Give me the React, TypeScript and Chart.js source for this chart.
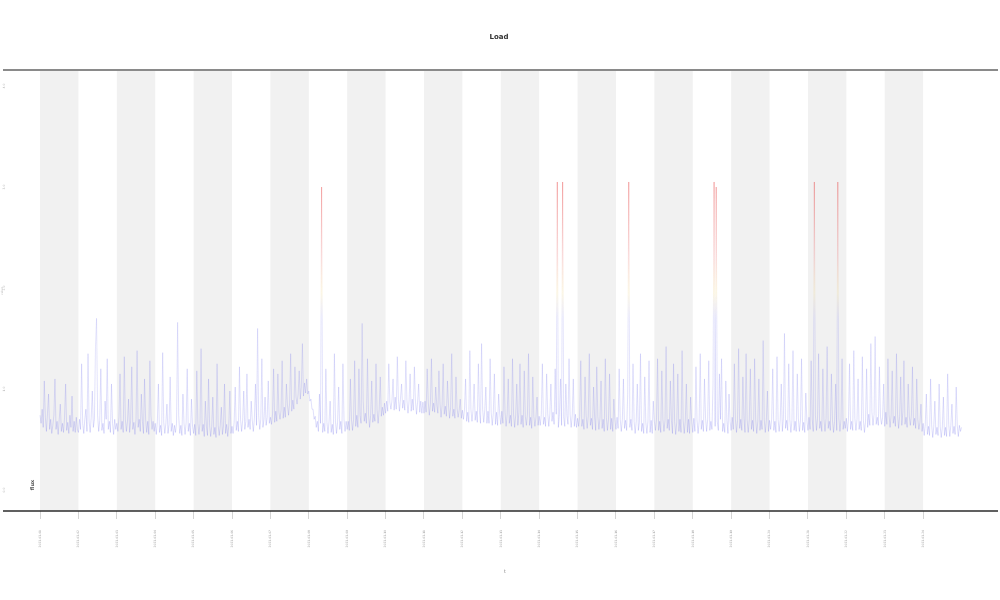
import React, { useEffect, useRef } from "react";
import { Chart, registerables } from "chart.js";

Chart.register(...registerables);

const chartTitle = "Load";
const seriesLabel = "flux";
const xAxisTitle = "t";
const yAxisTitle = "value";

const dayLabels = [
  "2023-03-01", "2023-03-02", "2023-03-03", "2023-03-04", "2023-03-05", "2023-03-06",
  "2023-03-07", "2023-03-08", "2023-03-09", "2023-03-10", "2023-03-11", "2023-03-12",
  "2023-03-13", "2023-03-14", "2023-03-15", "2023-03-16", "2023-03-17", "2023-03-18",
  "2023-03-19", "2023-03-20", "2023-03-21", "2023-03-22", "2023-03-23", "2023-03-24",
];

const yTickValues = [0, 1, 2, 3, 4];
const yTickLabels = ["0.0", "1.0", "2.0", "3.0", "4.0"];

// readings of each day, one row per day
const fluxByDay = [
  [0.74, 0.66, 0.80, 0.62, 1.08, 0.72, 0.58, 0.76, 0.95, 0.60, 0.70, 0.56, 0.64, 0.74, 1.10, 0.60, 0.68, 0.55, 0.70, 0.85, 0.58, 0.66, 0.57, 0.72, 1.05, 0.59, 0.67, 0.56, 0.74, 0.62, 0.93, 0.58, 0.68, 0.57, 0.72, 0.60],
  [0.57, 0.70, 0.60, 1.25, 0.66, 0.56, 0.70, 0.80, 0.58, 1.35, 0.68, 0.57, 0.72, 0.98, 0.62, 0.70, 1.42, 1.70, 0.74, 0.58, 0.69, 1.20, 0.59, 0.66, 0.56, 0.88, 0.70, 1.30, 0.60, 0.68, 0.57, 1.05, 0.66, 0.55, 0.70, 0.60],
  [0.66, 0.58, 0.72, 1.15, 0.60, 0.68, 0.57, 1.32, 0.70, 0.58, 0.68, 0.90, 0.57, 0.69, 1.22, 0.60, 0.67, 0.55, 0.70, 1.38, 0.62, 0.70, 0.58, 0.95, 0.68, 0.56, 1.10, 0.70, 0.57, 0.68, 0.55, 1.28, 0.74, 0.60, 0.68, 0.58],
  [0.66, 0.55, 0.68, 1.05, 0.57, 0.64, 0.54, 1.36, 0.67, 0.56, 0.66, 0.85, 0.56, 0.65, 1.12, 0.58, 0.66, 0.54, 0.64, 0.57, 0.66, 1.66, 0.74, 0.56, 0.64, 0.54, 0.95, 0.66, 0.55, 0.67, 1.20, 0.58, 0.66, 0.54, 0.90, 0.63],
  [0.56, 0.65, 0.54, 1.18, 0.66, 0.55, 0.66, 1.40, 0.58, 0.65, 0.53, 0.88, 0.63, 0.54, 1.10, 0.64, 0.53, 0.63, 0.92, 0.55, 0.62, 0.52, 1.25, 0.64, 0.54, 0.64, 0.82, 0.55, 0.63, 1.05, 0.56, 0.65, 0.53, 0.64, 0.98, 0.56],
  [0.63, 0.56, 0.67, 1.02, 0.59, 0.68, 0.58, 1.22, 0.70, 0.58, 0.69, 0.98, 0.60, 0.68, 1.15, 0.62, 0.70, 0.60, 0.88, 0.69, 0.58, 0.71, 1.05, 0.64, 1.60, 0.74, 0.60, 0.70, 1.30, 0.62, 0.70, 0.92, 0.64, 0.72, 1.08, 0.66],
  [0.72, 0.65, 0.75, 1.20, 0.67, 0.78, 0.68, 1.15, 0.77, 0.70, 0.79, 1.28, 0.71, 0.82, 0.72, 1.05, 0.84, 0.74, 0.86, 1.35, 0.78, 0.89, 0.80, 1.22, 0.92, 0.85, 0.95, 1.18, 0.90, 1.02, 1.45, 0.93, 1.06, 0.96, 1.10, 0.95],
  [0.98, 0.88, 0.90, 0.80, 0.80, 0.70, 0.73, 0.62, 0.68, 0.58, 0.95, 0.66, 3.00, 0.57, 0.66, 0.58, 1.20, 0.67, 0.56, 0.68, 0.88, 0.57, 0.65, 0.55, 1.35, 0.68, 0.56, 0.67, 1.02, 0.60, 0.68, 0.56, 1.25, 0.70, 0.58, 0.68],
  [0.60, 0.68, 0.59, 1.10, 0.70, 0.59, 0.70, 1.28, 0.63, 0.74, 0.62, 1.20, 0.74, 0.66, 1.65, 0.88, 0.68, 0.76, 0.66, 1.30, 0.75, 0.62, 0.74, 1.08, 0.67, 0.75, 0.68, 1.25, 0.79, 0.66, 0.80, 1.12, 0.73, 0.82, 0.74, 0.86],
  [0.76, 0.88, 0.78, 1.25, 0.87, 0.80, 0.89, 1.10, 0.79, 0.92, 0.80, 1.32, 0.90, 0.78, 0.91, 1.05, 0.81, 0.89, 0.79, 1.28, 0.89, 0.76, 0.88, 1.15, 0.78, 0.90, 0.79, 1.22, 0.88, 0.75, 0.87, 1.05, 0.77, 0.88, 0.76, 0.87],
  [0.76, 0.88, 0.77, 1.20, 0.87, 0.74, 0.85, 1.30, 0.78, 0.86, 0.77, 1.02, 0.84, 0.76, 1.18, 0.86, 0.72, 0.84, 1.25, 0.75, 0.83, 0.73, 1.08, 0.84, 0.71, 0.82, 1.35, 0.73, 0.80, 0.71, 1.12, 0.81, 0.72, 0.79, 0.90, 0.71],
  [0.79, 0.70, 0.80, 1.10, 0.68, 0.77, 0.67, 1.38, 0.80, 0.68, 0.79, 1.05, 0.69, 0.78, 0.67, 1.25, 0.78, 0.66, 1.45, 0.80, 0.67, 0.79, 1.02, 0.66, 0.78, 0.66, 1.30, 0.77, 0.64, 0.76, 1.15, 0.65, 0.77, 0.64, 0.95, 0.75],
  [0.65, 0.78, 0.66, 1.22, 0.77, 0.63, 0.75, 1.10, 0.66, 0.74, 0.63, 1.30, 0.75, 0.62, 0.74, 1.05, 0.64, 0.77, 1.25, 0.65, 0.74, 0.62, 1.18, 0.73, 0.64, 0.75, 1.35, 0.64, 0.72, 0.61, 1.12, 0.73, 0.63, 0.72, 0.92, 0.64],
  [0.73, 0.64, 0.75, 1.25, 0.65, 0.72, 0.63, 1.15, 0.76, 0.63, 0.75, 1.05, 0.68, 0.77, 0.65, 1.20, 0.75, 3.05, 0.62, 0.75, 1.10, 0.64, 3.05, 0.72, 0.63, 1.05, 0.74, 0.65, 1.30, 0.75, 0.62, 0.74, 1.10, 0.63, 0.75, 0.62],
  [0.71, 0.63, 0.73, 1.28, 0.63, 0.70, 0.60, 1.12, 0.74, 0.61, 0.73, 1.35, 0.64, 0.71, 0.60, 1.02, 0.72, 0.59, 1.22, 0.73, 0.60, 0.71, 1.08, 0.61, 0.70, 0.58, 1.30, 0.72, 0.59, 0.70, 1.15, 0.60, 0.71, 0.58, 0.90, 0.70],
  [0.60, 0.72, 0.61, 1.20, 0.70, 0.58, 0.70, 1.10, 0.61, 0.69, 0.59, 0.95, 3.05, 0.62, 0.70, 0.59, 1.25, 0.68, 0.56, 0.68, 1.05, 0.59, 0.67, 1.35, 0.58, 0.66, 0.56, 1.12, 0.67, 0.56, 0.68, 1.28, 0.57, 0.69, 0.56, 0.88],
  [0.68, 0.59, 0.70, 1.30, 0.59, 0.68, 0.57, 1.18, 0.70, 0.58, 0.69, 1.42, 0.61, 0.70, 0.59, 1.08, 0.69, 0.56, 1.25, 0.68, 0.55, 0.67, 1.15, 0.58, 0.70, 0.57, 1.38, 0.69, 0.56, 0.68, 1.05, 0.57, 0.70, 0.56, 0.92, 0.68],
  [0.57, 0.71, 0.58, 1.22, 0.69, 0.56, 0.68, 1.35, 0.60, 0.69, 0.58, 1.10, 0.71, 0.58, 0.70, 1.28, 0.59, 0.68, 0.60, 1.05, 3.05, 0.63, 3.00, 0.68, 0.59, 1.15, 0.70, 1.30, 0.58, 0.66, 0.57, 1.08, 0.69, 0.56, 0.95, 0.68],
  [0.59, 0.72, 0.60, 1.25, 0.70, 0.57, 0.69, 1.40, 0.61, 0.70, 0.59, 1.12, 0.71, 0.57, 1.35, 0.69, 0.57, 0.70, 1.20, 0.60, 0.69, 0.58, 1.30, 0.70, 0.56, 0.68, 1.10, 0.59, 0.69, 0.60, 1.48, 0.70, 0.57, 0.69, 0.98, 0.58],
  [0.69, 0.60, 0.70, 1.20, 0.59, 0.68, 0.57, 1.32, 0.70, 0.58, 0.69, 1.05, 0.58, 0.71, 1.55, 0.61, 0.69, 0.59, 1.25, 0.70, 0.57, 0.69, 1.38, 0.59, 0.68, 0.58, 1.15, 0.71, 0.58, 0.69, 1.30, 0.59, 0.67, 0.57, 0.96, 0.69],
  [0.59, 0.72, 0.60, 1.28, 0.70, 0.58, 3.05, 0.74, 0.59, 0.71, 1.35, 0.61, 0.68, 0.58, 1.20, 0.70, 0.58, 0.71, 1.42, 0.61, 0.68, 0.59, 1.15, 0.69, 0.57, 0.68, 1.05, 0.59, 3.05, 0.71, 0.58, 0.70, 1.30, 0.60, 0.68, 0.61],
  [0.71, 0.58, 0.70, 1.25, 0.60, 0.68, 0.59, 1.38, 0.71, 0.59, 0.70, 1.10, 0.60, 0.68, 0.59, 1.32, 0.69, 0.57, 0.68, 1.20, 0.62, 0.75, 0.64, 1.45, 0.77, 0.64, 0.75, 1.52, 0.65, 0.72, 0.64, 1.22, 0.73, 0.65, 0.72, 1.05],
  [0.63, 0.77, 0.65, 1.30, 0.75, 0.62, 0.74, 1.18, 0.66, 0.73, 0.63, 1.35, 0.75, 0.61, 0.73, 1.12, 0.64, 0.77, 1.28, 0.65, 0.72, 0.62, 1.05, 0.73, 0.64, 0.74, 1.22, 0.64, 0.71, 0.61, 1.10, 0.70, 0.60, 0.67, 0.85, 0.58],
  [0.66, 0.54, 0.65, 0.95, 0.55, 0.63, 0.54, 1.10, 0.64, 0.52, 0.63, 0.88, 0.55, 0.62, 0.54, 1.05, 0.63, 0.52, 0.62, 0.92, 0.54, 0.62, 0.53, 1.15, 0.65, 0.53, 0.64, 0.85, 0.56, 0.63, 0.55, 1.02, 0.64, 0.53, 0.64, 0.58],
];
const finalReading = 0.62;

export default function App() {
  const canvasRef = useRef<HTMLCanvasElement | null>(null);

  useEffect(() => {
    const canvas = canvasRef.current;
    if (!canvas) return;
    const points: { x: number; y: number }[] = [];
    fluxByDay.forEach((row, d) => {
      row.forEach((v, j) => points.push({ x: d + j / row.length, y: v }));
    });
    points.push({ x: fluxByDay.length, y: finalReading });

    let gradCache: CanvasGradient | null = null;
    let gradKey = "";
    const lineColor = (ctx: any) => {
      const chart = ctx.chart;
      const area = chart.chartArea;
      if (!area) return "rgba(90,90,235,0.4)";
      const ys = chart.scales.y;
      const p0 = ys.getPixelForValue(0);
      const p1 = ys.getPixelForValue(3.1);
      const key = p0 + ":" + p1;
      if (gradCache && key === gradKey) return gradCache;
      const g = chart.ctx.createLinearGradient(0, p0, 0, p1);
      g.addColorStop(0, "rgba(90,90,235,0.42)");
      g.addColorStop(1.7 / 3.1, "rgba(120,120,235,0.33)");
      g.addColorStop(1.95 / 3.1, "rgba(235,205,110,0.33)");
      g.addColorStop(2.3 / 3.1, "rgba(235,120,120,0.38)");
      g.addColorStop(1, "rgba(230,60,60,0.6)");
      gradCache = g;
      gradKey = key;
      return g;
    };

    const decorPlugin = {
      id: "decor",
      beforeDatasetsDraw(chart: any) {
        const { ctx, chartArea, scales } = chart;
        const xs = scales.x;
        ctx.save();
        ctx.fillStyle = "#f1f1f1";
        for (let i = 0; i + 1 < dayLabels.length; i += 2) {
          const a = xs.getPixelForValue(i);
          const b = xs.getPixelForValue(i + 1);
          ctx.fillRect(a, chartArea.top, b - a, chartArea.bottom - chartArea.top);
        }
        ctx.restore();
      },
      afterDraw(chart: any) {
        const { ctx, chartArea, scales } = chart;
        const ys = scales.y;
        const left = ys.left + 3;
        ctx.save();
        ctx.strokeStyle = "#8a8a8a";
        ctx.lineWidth = 2;
        ctx.beginPath();
        ctx.moveTo(left, chartArea.top - 1);
        ctx.lineTo(chartArea.right, chartArea.top - 1);
        ctx.stroke();
        ctx.strokeStyle = "#2b2b2b";
        ctx.lineWidth = 1.5;
        ctx.beginPath();
        ctx.moveTo(left, chartArea.bottom);
        ctx.lineTo(chartArea.right, chartArea.bottom);
        ctx.stroke();

        ctx.fillStyle = "#b0b0b0";
        ctx.font = "3px 'DejaVu Sans'";
        ctx.textAlign = "center";
        ctx.textBaseline = "middle";
        yTickValues.forEach((v, i) => {
          const py = ys.getPixelForValue(v);
          ctx.save();
          ctx.translate(ys.left + 4, py);
          ctx.rotate(-Math.PI / 2);
          ctx.fillText(yTickLabels[i], 0, 0);
          ctx.restore();
        });

        ctx.fillStyle = "#555";
        ctx.font = "bold 5px 'DejaVu Sans'";
        ctx.save();
        ctx.translate(chartArea.left + 21, chartArea.bottom - 26);
        ctx.rotate(-Math.PI / 2);
        ctx.fillText(seriesLabel, 0, 0);
        ctx.restore();
        ctx.restore();
      },
    };

    const chart = new Chart(canvas, {
      type: "line",
      data: {
        datasets: [
          {
            label: seriesLabel,
            data: points,
            borderColor: lineColor,
            borderWidth: 0.55,
            pointRadius: 0,
            tension: 0,
            fill: false,
          } as any,
        ],
      },
      options: {
        animation: false,
        responsive: false,
        maintainAspectRatio: false,
        layout: { padding: { left: 0, right: 2, top: 0, bottom: 0 } },
        plugins: {
          legend: { display: false },
          tooltip: { enabled: false },
          title: {
            display: true,
            text: chartTitle,
            color: "#333",
            font: { size: 7, family: "'DejaVu Sans'", weight: "bold" },
            padding: { top: 33, bottom: 29.6 },
          },
        },
        scales: {
          x: {
            type: "linear",
            min: -0.73,
            max: 24.95,
            afterBuildTicks: (s: any) => {
              s.ticks = dayLabels.map((_, i) => ({ value: i }));
            },
            afterFit: (s: any) => {
              s.height = 89;
            },
            ticks: {
              autoSkip: false,
              minRotation: 90,
              maxRotation: 90,
              padding: 11,
              color: "#9a9a9a",
              font: { size: 3, family: "'DejaVu Sans'" },
              callback: (v: any) => dayLabels[Math.round(Number(v))] ?? "",
            },
            grid: { drawOnChartArea: false, drawTicks: true, tickLength: 8, color: "#d4d4d4" },
            border: { display: false },
            title: {
              display: true,
              text: xAxisTitle,
              color: "#888",
              font: { size: 5, family: "'DejaVu Sans'" },
              padding: { top: 0, bottom: 25 },
            },
          },
          y: {
            type: "linear",
            min: -0.208,
            max: 4.149,
            afterFit: (s: any) => {
              s.width = 12;
            },
            ticks: { display: false },
            grid: { display: false },
            border: { display: false },
            title: {
              display: true,
              text: yAxisTitle,
              color: "#b8b8b8",
              font: { size: 3, family: "'DejaVu Sans'" },
              padding: 0,
            },
          },
        },
      } as any,
      plugins: [decorPlugin],
    });
    return () => chart.destroy();
  }, []);

  return (
    <div style={{ position: "fixed", left: 0, top: 0, width: 1000, height: 600, background: "#fff" }}>
      <canvas ref={canvasRef} width={1000} height={600} style={{ display: "block", width: 1000, height: 600 }} />
    </div>
  );
}
